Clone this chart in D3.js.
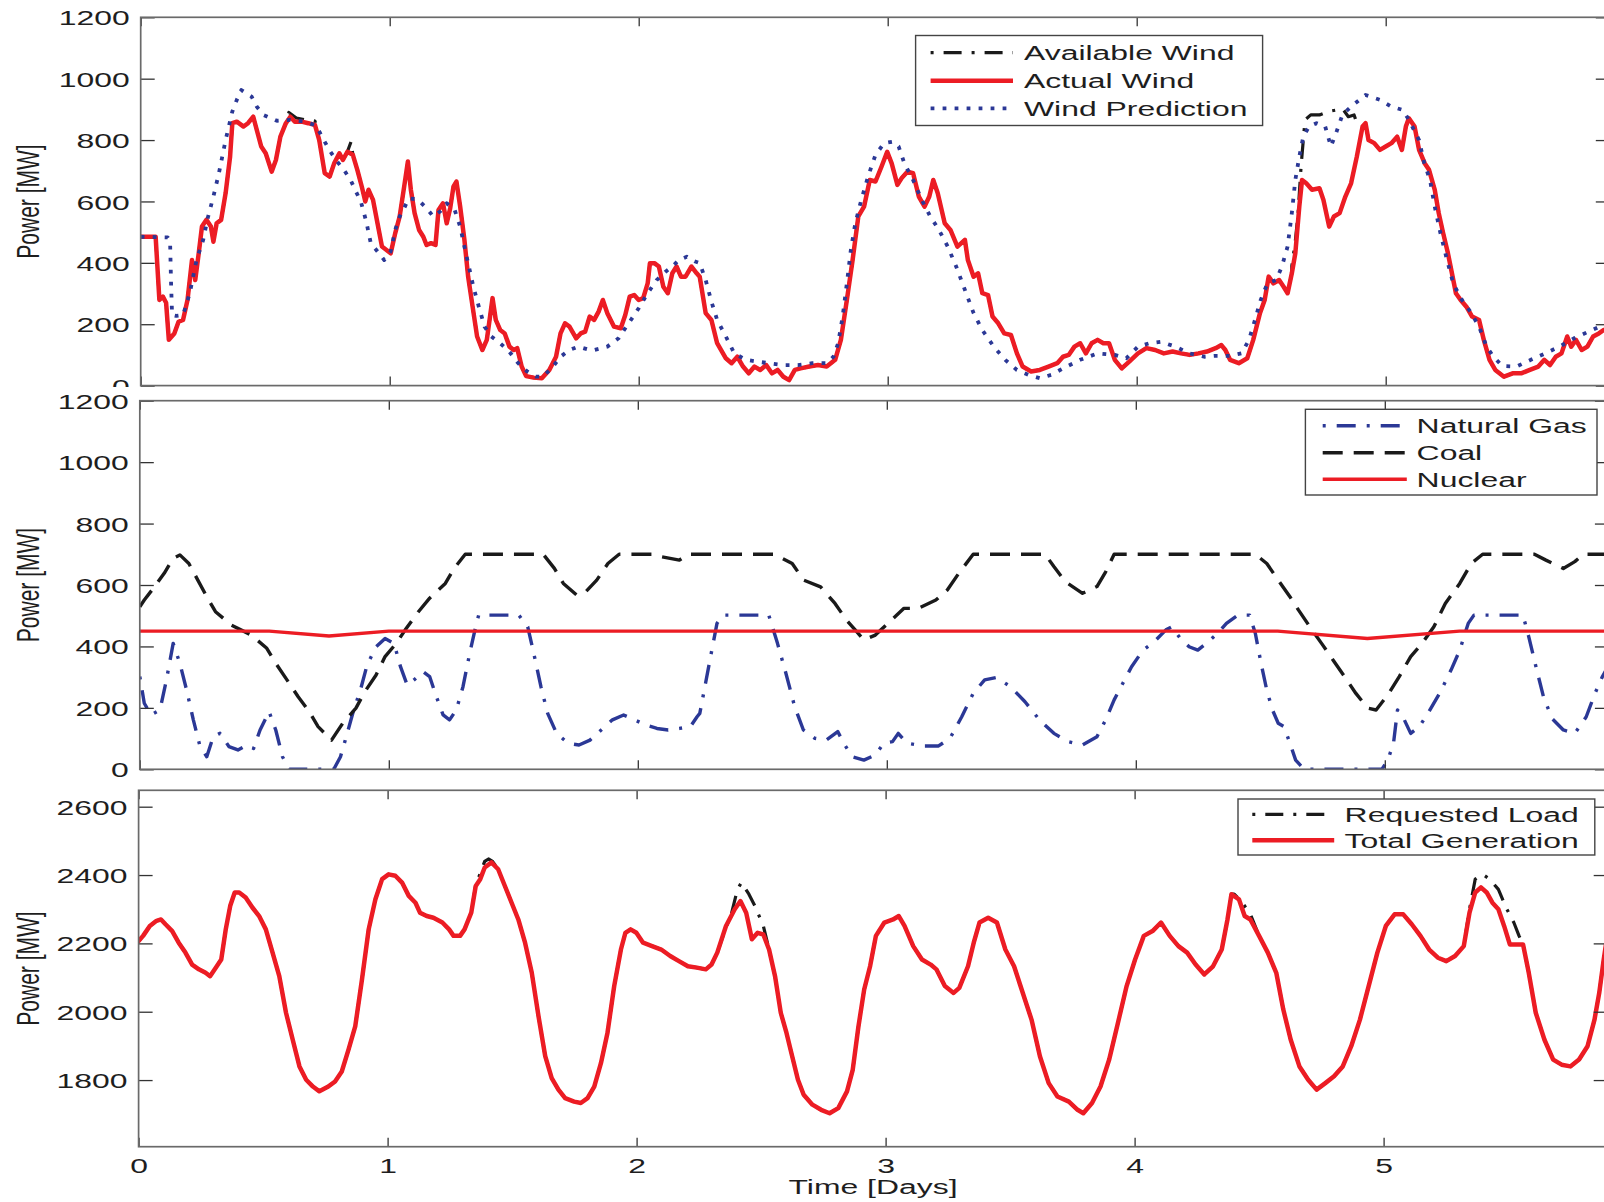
<!DOCTYPE html>
<html><head><meta charset="utf-8">
<script src="https://cdn.jsdelivr.net/npm/d3@7"></script>
<style>
body{margin:0;background:#fff}
svg{display:block}
text{font-family:"Liberation Sans",Arial,Helvetica,sans-serif;fill:#1e1e1e}
</style>
</head><body>
<svg id="chart" width="1604" height="1202"></svg>
<script>
// ---------------- data (time in days, power in MW) ----------------
const dayTicks = [0,1,2,3,4,5];
const dayTickLabels = ["0","1","2","3","4","5"];
const windTicks = [0,200,400,600,800,1000,1200];
const unitTicks = [0,200,400,600,800,1000,1200];
const loadTicks = [1800,2000,2200,2400,2600];

const actualWind = [[0,485],[0.06,485],[0.075,279],[0.089,290],[0.102,270],[0.113,149],[0.135,170],[0.152,208],[0.170,214],[0.188,279],[0.206,409],[0.219,344],[0.233,431],[0.246,518],[0.264,540],[0.282,518],[0.292,469],[0.305,529],[0.323,540],[0.341,627],[0.359,746],[0.368,855],[0.386,860],[0.413,844],[0.431,855],[0.452,876],[0.484,779],[0.502,757],[0.526,697],[0.543,735],[0.561,811],[0.583,855],[0.601,876],[0.619,860],[0.646,860],[0.673,855],[0.700,849],[0.717,800],[0.739,692],[0.759,681],[0.777,724],[0.798,757],[0.812,735],[0.830,762],[0.852,752],[0.870,703],[0.888,648],[0.902,600],[0.915,638],[0.933,605],[0.951,529],[0.969,453],[0.987,442],[1.004,431],[1.022,496],[1.040,551],[1.058,648],[1.073,730],[1.085,638],[1.100,562],[1.118,507],[1.135,485],[1.148,458],[1.166,464],[1.184,458],[1.196,572],[1.214,594],[1.229,529],[1.243,578],[1.256,648],[1.268,665],[1.283,583],[1.300,475],[1.315,355],[1.333,257],[1.351,160],[1.372,116],[1.390,149],[1.403,225],[1.413,285],[1.426,214],[1.444,181],[1.462,170],[1.481,127],[1.498,116],[1.512,122],[1.530,62],[1.548,31],[1.578,26],[1.611,24],[1.641,51],[1.668,94],[1.686,170],[1.704,203],[1.722,192],[1.749,154],[1.767,170],[1.785,176],[1.803,225],[1.821,214],[1.839,241],[1.856,279],[1.874,236],[1.901,192],[1.928,187],[1.946,230],[1.964,290],[1.982,295],[2.0,279],[2.018,285],[2.036,333],[2.045,399],[2.063,399],[2.081,388],[2.099,322],[2.117,301],[2.135,366],[2.152,388],[2.170,355],[2.188,355],[2.212,388],[2.233,366],[2.245,355],[2.269,236],[2.292,214],[2.315,138],[2.35,89],[2.373,73],[2.396,94],[2.419,62],[2.442,40],[2.465,62],[2.488,51],[2.512,67],[2.535,40],[2.558,51],[2.581,29],[2.604,18],[2.627,51],[2.650,56],[2.685,62],[2.72,67],[2.755,62],[2.789,84],[2.812,149],[2.836,279],[2.859,409],[2.882,551],[2.905,583],[2.928,670],[2.951,665],[2.975,713],[2.998,762],[3.016,724],[3.039,654],[3.056,676],[3.079,697],[3.102,692],[3.125,616],[3.148,583],[3.167,616],[3.183,670],[3.201,627],[3.229,529],[3.252,507],[3.280,453],[3.310,475],[3.322,409],[3.345,355],[3.363,366],[3.380,301],[3.403,295],[3.421,225],[3.444,203],[3.468,170],[3.495,165],[3.519,105],[3.542,62],[3.576,46],[3.611,51],[3.646,62],[3.681,73],[3.704,94],[3.727,100],[3.75,127],[3.773,138],[3.796,105],[3.819,138],[3.843,149],[3.866,138],[3.889,138],[3.912,84],[3.940,56],[3.970,78],[4.005,105],[4.039,122],[4.074,116],[4.109,105],[4.144,111],[4.178,105],[4.213,100],[4.248,105],[4.282,111],[4.317,122],[4.340,132],[4.356,116],[4.375,84],[4.41,73],[4.444,89],[4.468,149],[4.495,236],[4.514,279],[4.530,355],[4.549,333],[4.572,344],[4.590,322],[4.606,301],[4.623,366],[4.637,431],[4.653,583],[4.664,670],[4.681,659],[4.704,638],[4.734,643],[4.75,605],[4.773,518],[4.792,551],[4.815,562],[4.838,616],[4.861,659],[4.884,746],[4.907,844],[4.919,855],[4.931,800],[4.954,790],[4.977,768],[5.0,779],[5.023,790],[5.046,811],[5.065,768],[5.081,844],[5.093,871],[5.116,844],[5.134,768],[5.157,724],[5.174,703],[5.197,638],[5.213,562],[5.231,496],[5.25,431],[5.266,366],[5.282,301],[5.301,279],[5.324,257],[5.347,225],[5.375,214],[5.394,149],[5.417,84],[5.44,51],[5.475,29],[5.51,40],[5.544,40],[5.579,51],[5.613,62],[5.637,84],[5.66,67],[5.683,94],[5.706,105],[5.729,160],[5.745,127],[5.764,149],[5.787,116],[5.81,127],[5.833,160],[5.856,170],[5.875,181],[5.9,185]];

// available wind: equal to actual wind except where curtailed (segments below)
const availableWindCurtailed = [
  [[0.583,855],[0.595,890],[0.625,872],[0.66,866],[0.70,862],[0.717,800]],
  [[0.830,762],[0.845,795],[0.852,752]],
  [[4.623,390],[4.637,470],[4.648,560],[4.660,713],[4.669,800],[4.676,866],[4.699,882],[4.734,882],[4.769,893],[4.803,898],[4.826,903],[4.850,876],[4.873,882],[4.884,855],[4.907,844]]
];

const windPrediction = [[0,485],[0.108,483],[0.118,470],[0.122,333],[0.126,230],[0.143,227],[0.170,230],[0.197,301],[0.224,409],[0.251,475],[0.269,545],[0.292,616],[0.314,692],[0.341,800],[0.368,893],[0.386,931],[0.404,963],[0.445,942],[0.466,909],[0.493,882],[0.547,863],[0.601,866],[0.655,860],[0.700,849],[0.717,828],[0.735,800],[0.762,762],[0.789,730],[0.816,703],[0.843,670],[0.861,638],[0.884,600],[0.906,534],[0.924,464],[0.951,437],[0.978,409],[1.004,437],[1.022,507],[1.040,551],[1.058,578],[1.076,610],[1.112,607],[1.148,578],[1.175,551],[1.202,567],[1.229,594],[1.261,572],[1.283,518],[1.300,453],[1.318,388],[1.336,322],[1.358,257],[1.381,192],[1.408,160],[1.444,138],[1.480,111],[1.516,73],[1.552,46],[1.587,29],[1.614,29],[1.650,56],[1.686,94],[1.722,116],[1.758,127],[1.812,114],[1.874,127],[1.919,154],[1.946,187],[1.973,219],[2.0,252],[2.036,301],[2.072,344],[2.108,371],[2.135,388],[2.161,409],[2.193,420],[2.224,405],[2.245,399],[2.269,344],[2.292,274],[2.315,214],[2.35,160],[2.384,105],[2.431,84],[2.477,78],[2.523,73],[2.581,67],[2.639,67],[2.697,73],[2.755,73],[2.782,94],[2.801,138],[2.819,225],[2.836,333],[2.852,442],[2.870,529],[2.894,605],[2.921,681],[2.951,752],[2.986,790],[3.021,795],[3.044,779],[3.067,724],[3.102,670],[3.137,605],[3.171,551],[3.206,507],[3.241,453],[3.275,388],[3.310,312],[3.345,236],[3.380,181],[3.426,127],[3.472,84],[3.519,51],[3.565,35],[3.611,24],[3.657,35],[3.704,56],[3.773,84],[3.843,105],[3.912,100],[3.958,89],[4.005,127],[4.051,138],[4.097,143],[4.155,127],[4.213,105],[4.271,94],[4.317,97],[4.375,97],[4.421,105],[4.451,149],[4.475,214],[4.498,279],[4.525,333],[4.560,344],[4.583,388],[4.606,453],[4.623,562],[4.637,670],[4.653,746],[4.669,811],[4.692,844],[4.722,855],[4.757,844],[4.780,779],[4.803,828],[4.826,882],[4.861,909],[4.919,947],[4.977,931],[5.023,909],[5.069,898],[5.093,866],[5.134,800],[5.155,724],[5.178,670],[5.197,583],[5.220,496],[5.243,420],[5.271,333],[5.306,279],[5.340,241],[5.375,192],[5.405,127],[5.433,94],[5.468,64],[5.525,62],[5.583,84],[5.641,105],[5.698,127],[5.756,154],[5.815,176],[5.875,198],[5.9,205]];

const naturalGas = [[0,302],[0.018,215],[0.045,177],[0.081,193],[0.107,291],[0.134,410],[0.161,345],[0.188,258],[0.215,161],[0.242,74],[0.269,41],[0.295,106],[0.322,117],[0.358,74],[0.394,63],[0.430,79],[0.457,68],[0.483,128],[0.519,188],[0.546,128],[0.573,41],[0.600,0],[0.779,0],[0.806,41],[0.833,117],[0.859,193],[0.886,258],[0.913,340],[0.949,399],[0.985,426],[1.021,410],[1.047,334],[1.074,274],[1.101,291],[1.137,318],[1.164,302],[1.191,237],[1.218,177],[1.244,161],[1.271,193],[1.298,269],[1.325,378],[1.352,475],[1.361,502],[1.522,502],[1.558,464],[1.585,367],[1.611,269],[1.638,182],[1.674,117],[1.719,85],[1.764,79],[1.808,95],[1.853,128],[1.898,161],[1.943,177],[1.987,161],[2.032,144],[2.077,133],[2.122,128],[2.167,133],[2.211,139],[2.238,171],[2.249,182],[2.272,280],[2.295,378],[2.318,475],[2.341,502],[2.526,502],[2.561,410],[2.595,312],[2.630,204],[2.665,128],[2.711,101],[2.757,95],[2.803,123],[2.827,85],[2.861,41],[2.908,30],[2.954,47],[2.988,85],[3.023,90],[3.046,117],[3.081,85],[3.150,76],[3.208,76],[3.254,101],[3.301,171],[3.347,247],[3.393,291],[3.439,299],[3.497,269],[3.555,220],[3.613,161],[3.671,117],[3.728,90],[3.786,79],[3.844,106],[3.879,161],[3.913,226],[3.948,280],[3.983,334],[4.029,388],[4.075,416],[4.121,454],[4.145,464],[4.179,426],[4.214,399],[4.249,388],[4.283,410],[4.329,443],[4.364,475],[4.410,502],[4.457,502],[4.480,443],[4.503,345],[4.526,258],[4.549,193],[4.572,150],[4.595,139],[4.619,85],[4.642,30],[4.676,0],[4.988,0],[5.012,30],[5.035,85],[5.051,193],[5.069,177],[5.104,117],[5.139,139],[5.173,182],[5.220,247],[5.266,323],[5.301,388],[5.335,475],[5.358,502],[5.555,502],[5.578,432],[5.607,334],[5.637,237],[5.671,166],[5.717,128],[5.763,117],[5.809,171],[5.844,247],[5.874,302],[5.9,340]];

const coal = [[0,529],[0.018,551],[0.054,589],[0.098,638],[0.134,687],[0.161,698],[0.197,670],[0.233,616],[0.269,562],[0.304,513],[0.367,470],[0.448,437],[0.510,394],[0.546,345],[0.591,291],[0.636,236],[0.680,188],[0.716,139],[0.770,95],[0.815,150],[0.868,199],[0.904,253],[0.949,307],[0.985,367],[1.030,410],[1.066,454],[1.119,513],[1.164,557],[1.227,605],[1.262,654],[1.307,700],[1.620,700],[1.665,654],[1.701,605],[1.755,567],[1.791,578],[1.835,616],[1.880,670],[1.925,700],[2.059,700],[2.095,692],[2.167,681],[2.202,700],[2.549,700],[2.62,670],[2.666,616],[2.734,594],[2.792,540],[2.838,486],[2.873,454],[2.908,421],[2.954,437],[3.012,481],[3.069,524],[3.127,524],[3.197,551],[3.243,584],[3.289,638],[3.347,700],[3.636,700],[3.671,660],[3.717,611],[3.786,573],[3.844,595],[3.879,643],[3.913,700],[4.480,700],[4.526,670],[4.572,616],[4.619,562],[4.653,519],[4.699,464],[4.746,410],[4.792,356],[4.838,302],[4.884,247],[4.931,199],[4.965,193],[5.012,242],[5.058,302],[5.104,367],[5.150,410],[5.197,464],[5.243,540],[5.301,605],[5.347,670],[5.393,700],[5.601,700],[5.647,681],[5.717,654],[5.763,676],[5.798,700],[5.9,700]];

const nuclear = [[0,450],[0.52,450],[0.76,434],[1.0,450],[4.57,450],[4.93,426],[5.30,450],[5.9,450]];

const totalGeneration = [[0,2207],[0.018,2222],[0.045,2251],[0.072,2266],[0.090,2270],[0.108,2256],[0.135,2236],[0.161,2202],[0.188,2173],[0.215,2138],[0.242,2124],[0.269,2114],[0.287,2104],[0.314,2133],[0.332,2153],[0.350,2241],[0.368,2310],[0.386,2349],[0.404,2349],[0.430,2334],[0.457,2305],[0.484,2280],[0.511,2241],[0.538,2173],[0.565,2104],[0.592,1997],[0.619,1918],[0.646,1840],[0.673,1801],[0.700,1781],[0.726,1767],[0.762,1781],[0.789,1796],[0.816,1825],[0.843,1889],[0.870,1957],[0.897,2094],[0.924,2241],[0.951,2329],[0.978,2388],[1.004,2402],[1.031,2398],[1.058,2378],[1.085,2339],[1.112,2319],[1.130,2290],[1.157,2280],[1.184,2275],[1.220,2261],[1.247,2241],[1.265,2222],[1.291,2222],[1.309,2241],[1.336,2290],[1.354,2368],[1.372,2388],[1.390,2422],[1.417,2437],[1.444,2417],[1.471,2368],[1.498,2319],[1.525,2270],[1.552,2202],[1.579,2114],[1.606,1987],[1.633,1870],[1.659,1806],[1.686,1772],[1.713,1747],[1.749,1737],[1.776,1733],[1.803,1747],[1.830,1781],[1.857,1850],[1.883,1938],[1.910,2075],[1.937,2182],[1.955,2231],[1.976,2241],[1.999,2231],[2.026,2202],[2.062,2192],[2.099,2182],[2.135,2163],[2.170,2148],[2.206,2133],[2.242,2129],[2.278,2124],[2.301,2138],[2.324,2173],[2.359,2251],[2.394,2300],[2.417,2324],[2.440,2290],[2.463,2212],[2.486,2231],[2.509,2226],[2.532,2182],[2.556,2104],[2.579,1997],[2.602,1938],[2.625,1869],[2.648,1801],[2.671,1757],[2.706,1728],[2.741,1713],[2.775,1703],[2.810,1718],[2.845,1767],[2.868,1830],[2.891,1957],[2.914,2065],[2.938,2134],[2.961,2222],[2.995,2261],[3.030,2270],[3.053,2280],[3.076,2251],[3.111,2192],[3.146,2153],[3.181,2138],[3.204,2124],[3.238,2075],[3.273,2055],[3.296,2070],[3.331,2133],[3.354,2202],[3.377,2261],[3.412,2275],[3.447,2261],[3.481,2182],[3.516,2133],[3.551,2055],[3.586,1977],[3.620,1869],[3.655,1791],[3.690,1752],[3.736,1737],[3.771,1713],[3.794,1703],[3.829,1733],[3.863,1781],[3.898,1860],[3.933,1967],[3.968,2075],[4.002,2153],[4.037,2222],[4.072,2236],[4.106,2261],[4.141,2222],[4.176,2192],[4.211,2173],[4.245,2138],[4.280,2109],[4.315,2133],[4.350,2182],[4.373,2270],[4.389,2344],[4.419,2329],[4.442,2280],[4.465,2270],[4.500,2222],[4.535,2173],[4.569,2114],[4.597,2007],[4.627,1918],[4.662,1840],[4.697,1801],[4.731,1772],[4.766,1791],[4.801,1811],[4.836,1840],[4.870,1899],[4.905,1977],[4.940,2075],[4.975,2173],[5.009,2251],[5.044,2285],[5.079,2285],[5.113,2256],[5.148,2222],[5.183,2182],[5.218,2158],[5.252,2148],[5.287,2163],[5.322,2192],[5.345,2290],[5.368,2349],[5.391,2364],[5.414,2349],[5.437,2319],[5.461,2300],[5.484,2251],[5.507,2197],[5.560,2197],[5.583,2114],[5.611,1997],[5.646,1918],[5.681,1860],[5.715,1845],[5.750,1840],[5.785,1860],[5.819,1899],[5.847,1977],[5.866,2055],[5.884,2153],[5.9,2230]];

// requested load: equal to total generation except where load exceeded generation
const requestedLoadExcess = [
  [[1.336,2290],[1.354,2372],[1.372,2405],[1.390,2440],[1.405,2447],[1.420,2441],[1.444,2417]],
  [[2.324,2173],[2.347,2222],[2.382,2290],[2.405,2358],[2.421,2378],[2.451,2344],[2.475,2310],[2.498,2270],[2.509,2251],[2.532,2182]],
  [[4.389,2344],[4.400,2344],[4.430,2322],[4.465,2285],[4.500,2222]],
  [[5.322,2192],[5.345,2300],[5.368,2388],[5.398,2402],[5.426,2388],[5.461,2358],[5.495,2300],[5.523,2261],[5.544,2222],[5.560,2197]]
];

// ---------------- helpers ----------------
function withSegments(base, segs){
  let pts = base.filter(p => !segs.some(s => p[0] > s[0][0] && p[0] < s[s.length-1][0]));
  segs.forEach(s => s.forEach(p => pts.push(p)));
  return pts.sort((a,b)=>a[0]-b[0]);
}
const availableWind = withSegments(actualWind, availableWindCurtailed);
const requestedLoad = withSegments(totalGeneration, requestedLoadExcess);

const SX = 1.52;      // horizontal stretch of the original figure's text
const FS = 21;
const RED = "#ec1c24", BLUE = "#2b3896", BLACK = "#1a1a1a";
const PX_PER_DAY = 249, XMAX = 5.9;

const svg = d3.select("#chart");
svg.append("rect").attr("width",1604).attr("height",1202).attr("fill","#fff");

const panels = [
  {id:"p1", x0:140.7, top:17.3, bottom:385.6, domain:[0,1200], ticks:windTicks, ylabCy:201.5,
   series:[
     {data:availableWind, color:BLACK, width:3.2, dash:"3,10,18,10", name:"Available Wind"},
     {data:actualWind, color:RED, width:4.5, dash:null, name:"Actual Wind"},
     {data:windPrediction, color:BLUE, width:3.8, dash:"3.8,8.2", name:"Wind Prediction"}
   ],
   legend:{x:915.6, y:35.5, w:347, h:90, rows:[52.7,80.7,108.3], lx0:930.6, lx1:1013, tx:1024}},
  {id:"p2", x0:139.8, top:400.7, bottom:769.3, domain:[0,1200], ticks:unitTicks, ylabCy:585,
   series:[
     {data:naturalGas, color:BLUE, width:3.4, dash:"3,11,19,11", name:"Natural Gas"},
     {data:coal, color:BLACK, width:3.4, dash:"20,11", name:"Coal"},
     {data:nuclear, color:RED, width:3.4, dash:null, name:"Nuclear"}
   ],
   legend:{x:1305.4, y:409.3, w:291.6, h:85.7, rows:[425.7,452.7,479.3], lx0:1322.7, lx1:1406.8, tx:1416.6}},
  {id:"p3", x0:138.6, top:790.3, bottom:1146.7, domain:[1605,2648], ticks:loadTicks, ylabCy:968.5, xlabels:true,
   series:[
     {data:requestedLoad, color:BLACK, width:3.2, dash:"3,10,18,10", name:"Requested Load"},
     {data:totalGeneration, color:RED, width:4.5, dash:null, name:"Total Generation"}
   ],
   legend:{x:1238, y:799, w:356.8, h:56, rows:[814.3,840.3], lx0:1252.3, lx1:1334.2, tx:1344.6}}
];

function stretchedText(g, x, y, str, anchor){
  return g.append("text")
    .attr("transform", `translate(${x},${y}) scale(${SX},1)`)
    .attr("text-anchor", anchor||"start")
    .style("font-size", FS+"px")
    .text(str);
}

panels.forEach((P, i) => {
  const x = d3.scaleLinear().domain([0, XMAX]).range([P.x0, P.x0 + PX_PER_DAY*XMAX]);
  const y = d3.scaleLinear().domain(P.domain).range([P.bottom, P.top]);
  const g = svg.append("g");

  if (i === 1) {
    // the middle axes cover the bottom of the top panel's "0" label
    g.append("rect").attr("x",60).attr("y",387).attr("width",75).attr("height",12).attr("fill","#fff");
  }

  g.append("clipPath").attr("id","clip"+P.id).append("rect")
    .attr("x", x.range()[0]).attr("y", P.top).attr("width", x.range()[1]-x.range()[0]).attr("height", P.bottom-P.top);

  // series
  const line = d3.line().x(d=>x(d[0])).y(d=>y(d[1]));
  const sg = g.append("g").attr("clip-path", `url(#clip${P.id})`);
  P.series.forEach(s => {
    sg.append("path").attr("d", line(s.data))
      .attr("fill","none").attr("stroke", s.color).attr("stroke-width", s.width)
      .attr("stroke-linejoin","round")
      .attr("stroke-linecap", s.dash ? "butt" : "round")
      .attr("stroke-dasharray", s.dash);
  });

  // axes (ticks inward, MATLAB style)
  const tickColor = "#333";
  const yl = g.append("g").attr("transform", `translate(${P.x0},0)`)
    .call(d3.axisLeft(y).tickValues(P.ticks).tickSizeInner(-14).tickSizeOuter(0).tickPadding(11).tickFormat(d3.format("d")));
  yl.select(".domain").remove();
  yl.selectAll(".tick line").attr("stroke", tickColor).attr("stroke-width",1.3);
  yl.selectAll(".tick text").each(function(){
    const t = d3.select(this);
    t.attr("x",null).attr("dy","0.36em").attr("fill","#1e1e1e")
     .attr("transform", `translate(-11,0) scale(${SX},1)`)
     .style("font-size", FS+"px");
  });
  yl.attr("font-family", null).attr("font-size", null);

  const yr = g.append("g").attr("transform", `translate(${x.range()[1]},0)`)
    .call(d3.axisRight(y).tickValues(P.ticks).tickSizeInner(-14).tickSizeOuter(0).tickFormat(""));
  yr.select(".domain").remove();
  yr.selectAll(".tick line").attr("stroke", tickColor).attr("stroke-width",1.3);

  const xt = g.append("g").attr("transform", `translate(0,${P.top})`)
    .call(d3.axisTop(x).tickValues(dayTicks).tickSizeInner(-9).tickSizeOuter(0).tickFormat(""));
  xt.select(".domain").remove();
  xt.selectAll(".tick line").attr("stroke", tickColor).attr("stroke-width",1.3);

  const xb = g.append("g").attr("transform", `translate(0,${P.bottom})`)
    .call(d3.axisBottom(x).tickValues(dayTicks).tickSizeInner(-9).tickSizeOuter(0).tickPadding(0)
      .tickFormat(P.xlabels ? (d,k)=>dayTickLabels[k] : ""));
  xb.select(".domain").remove();
  xb.selectAll(".tick line").attr("stroke", tickColor).attr("stroke-width",1.3);
  xb.attr("font-family", null).attr("font-size", null);
  if (P.xlabels) {
    xb.selectAll(".tick text").attr("y",null).attr("dy",null).attr("fill","#1e1e1e")
      .attr("transform", `translate(0,26) scale(${SX},1)`)
      .style("font-size", FS+"px");
  }

  // box
  g.append("rect").attr("x", x.range()[0]).attr("y", P.top)
    .attr("width", x.range()[1]-x.range()[0]).attr("height", P.bottom-P.top)
    .attr("fill","none").attr("stroke","#6a6a6a").attr("stroke-width",1.7);

  // y label
  g.append("text")
    .attr("transform", `translate(39,${P.ylabCy}) scale(${SX},1) rotate(-90)`)
    .attr("text-anchor","middle").style("font-size", FS+"px").text("Power [MW]");

  // legend
  const L = P.legend;
  const lg = g.append("g");
  lg.append("rect").attr("x",L.x).attr("y",L.y).attr("width",L.w).attr("height",L.h)
    .attr("fill","#fff").attr("stroke","#444").attr("stroke-width",1.4);
  P.series.forEach((s, k) => {
    const ry = L.rows[k];
    lg.append("line").attr("x1",L.lx0).attr("x2",L.lx1).attr("y1",ry).attr("y2",ry)
      .attr("stroke", s.color).attr("stroke-width", s.width)
      .attr("stroke-dasharray", s.dash);
    stretchedText(lg, L.tx, ry + 7.5, s.name, "start");
  });
});

// x label
stretchedText(svg, 873, 1194, "Time [Days]", "middle");
</script>
</body></html>
